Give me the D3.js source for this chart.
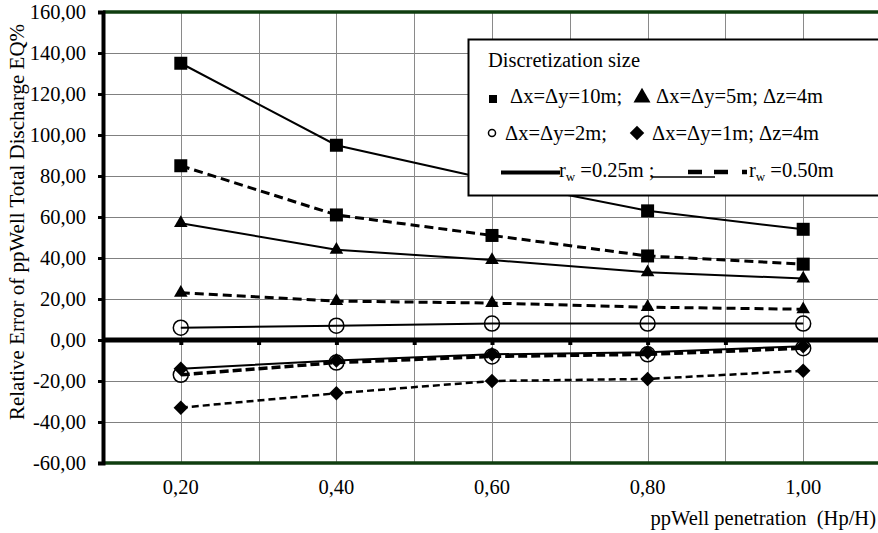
<!DOCTYPE html>
<html>
<head>
<meta charset="utf-8">
<script src="https://cdn.jsdelivr.net/npm/d3@7"></script>
<style>
  body { margin: 0; background: #fff; }
  svg { display: block; }
  svg text { font-family: "Liberation Serif", "Times New Roman", serif; fill: #000; white-space: pre; }
</style>
</head>
<body>
<div id="chart"></div>
<script>
// well penetration (Hp/H)
const penetration = [0.2, 0.4, 0.6, 0.8, 1.0]

// relative error EQ% per discretization, rw = 0.25m (solid) / 0.50m (dashed)
const sq025  = [135, 95, 78, 63, 54]
const sq050  = [85, 61, 51, 41, 37]
const tri025 = [57, 44, 39, 33, 30]
const tri050 = [23, 19, 18, 16, 15]
const cir025 = [6, 7, 8, 8, 8]
const cir050 = [-17, -11, -8, -7, -4]
const dia025 = [-14, -10, -7, -6, -3]
const dia050 = [-33, -26, -20, -19, -15]

const yTicks = [-60, -40, -20, 0, 20, 40, 60, 80, 100, 120, 140, 160]
const xLabelTicks = [0.2, 0.4, 0.6, 0.8, 1.0]
const xGridTicks = [0.2, 0.3, 0.4, 0.5, 0.6, 0.7, 0.8, 0.9, 1.0]

const yTitle = "Relative Error of ppWell Total Discharge EQ%"
const xTitle = "ppWell penetration  (Hp/H)"

const width = 878, height = 533
const FS = "20.5px"
// "160,00" style labels, plain hyphen for negatives
const fmt = d => d.toFixed(2).replace(".", ",")

const svg = d3.select("#chart").append("svg")
    .attr("width", width)
    .attr("height", height)

const x = d3.scaleLinear().domain([0.1, 1.1]).range([103, 881])
const y = d3.scaleLinear().domain([-60, 160]).range([463, 12])

// *** grid ***
const grid = svg.append("g")
grid.selectAll(".hg").data(yTicks.filter(d => d > -60 && d < 160 && d != 0))
  .enter().append("line")
    .attr("x1", x(0.1)).attr("x2", width)
    .attr("y1", d => Math.round(y(d)) + 0.5).attr("y2", d => Math.round(y(d)) + 0.5)
    .style("stroke", "#808080").style("stroke-width", 1)
grid.selectAll(".vg").data(xGridTicks)
  .enter().append("line")
    .attr("x1", d => Math.round(x(d)) + 0.5).attr("x2", d => Math.round(x(d)) + 0.5)
    .attr("y1", y(160)).attr("y2", y(-60))
    .style("stroke", "#8a8a8a").style("stroke-width", 1)

// top / bottom frame (dark green)
svg.append("g").selectAll("line").data([160, -60])
  .enter().append("line")
    .attr("x1", x(0.1)).attr("x2", width)
    .attr("y1", d => y(d)).attr("y2", d => y(d))
    .style("stroke", "#0f3d0f").style("stroke-width", 3.5)

// *** left axis ***
const yAxis = d3.axisLeft(y).tickValues(yTicks).tickFormat(fmt).tickSize(5).tickPadding(12)
const gy = svg.append("g")
    .attr("transform", `translate(${x(0.1)},0)`)
    .call(yAxis)
    .attr("font-family", null)
    .attr("font-size", null)
gy.select(".domain").style("stroke", "#000").style("stroke-width", 4)
gy.selectAll(".tick line").style("stroke", "#000").style("stroke-width", 3)
gy.selectAll(".tick text")
    .style("font-size", FS)
    .attr("dy", "0.34em")

// *** zero line with small tick marks ***
const xAxis = d3.axisBottom(x).tickValues(xGridTicks).tickFormat("").tickSize(5)
const gz = svg.append("g")
    .attr("transform", `translate(0,${y(0)})`)
    .call(xAxis)
gz.select(".domain").remove()
gz.selectAll(".tick line").style("stroke", "#000").style("stroke-width", 4)
svg.append("line")
    .attr("x1", x(0.1)).attr("x2", width)
    .attr("y1", y(0)).attr("y2", y(0))
    .style("stroke", "#000").style("stroke-width", 5)

// x tick labels
svg.append("g").selectAll("text").data(xLabelTicks)
  .enter().append("text")
    .attr("x", d => x(d)).attr("y", 494)
    .attr("text-anchor", "middle")
    .style("font-size", FS)
    .text(fmt)

// axis titles
svg.append("text")
    .attr("transform", `translate(24,222) rotate(-90)`)
    .attr("text-anchor", "middle")
    .style("font-size", "21px")
    .text(yTitle)
svg.append("text")
    .attr("x", 876).attr("y", 525)
    .attr("text-anchor", "end")
    .style("font-size", FS)
    .text(xTitle)

// *** curves ***
const series = [
  {values: sq025,  marker: "square",   dash: null,  lw: 2},
  {values: sq050,  marker: "square",   dash: "9,5", lw: 3},
  {values: tri025, marker: "triangle", dash: null,  lw: 2},
  {values: tri050, marker: "triangle", dash: "9,5", lw: 3},
  {values: cir025, marker: "circle",   dash: null,  lw: 2},
  {values: dia050, marker: "diamond",  dash: "7,4", lw: 2.5},
  {values: cir050, marker: "circle",   dash: "9,4", lw: 3.5},
  {values: dia025, marker: "diamond",  dash: null,  lw: 2}
]

const line = d3.line()
    .x((d, i) => x(penetration[i]))
    .y(d => y(d))

function drawMarker(g, type, cx, cy, scale) {
  scale = scale || 1
  if (type == "circle") {
    g.append("circle")
      .attr("cx", cx).attr("cy", cy).attr("r", 7.5 * scale)
      .style("fill", "none").style("stroke", "#000").style("stroke-width", 1.5)
  } else if (type == "square") {
    g.append("path")
      .attr("d", d3.symbol(d3.symbolSquare, 169 * scale * scale)())
      .attr("transform", `translate(${cx},${cy})`)
      .style("fill", "#000")
  } else if (type == "triangle") {
    g.append("path")
      .attr("d", d3.symbol(d3.symbolTriangle, 80 * scale * scale)())
      .attr("transform", `translate(${cx},${cy})`)
      .style("fill", "#000")
  } else if (type == "diamond") {
    g.append("path")
      .attr("d", d3.symbol(d3.symbolSquare, 105 * scale * scale)())
      .attr("transform", `translate(${cx},${cy}) rotate(45)`)
      .style("fill", "#000")
  }
}

for (let s of series) {
  const g = svg.append("g")
  g.append("path")
    .attr("d", line(s.values))
    .style("fill", "none")
    .style("stroke", "#000")
    .style("stroke-width", s.lw)
    .style("stroke-dasharray", s.dash)
  s.values.forEach((v, i) => drawMarker(g, s.marker, x(penetration[i]), y(v)))
}

// *** legend ***
const lg = svg.append("g")
lg.append("rect")
    .attr("x", 468.5).attr("y", 39.5)
    .attr("width", 440).attr("height", 156)
    .style("fill", "#fff").style("stroke", "#000").style("stroke-width", 2)

const legendText = (xx, yy, str) => lg.append("text")
    .attr("x", xx).attr("y", yy)
    .style("font-size", FS)
    .text(str)

legendText(488, 67, "Discretization size")

drawMarker(lg, "square", 493, 99, 0.62)
legendText(510, 103, "Δx=Δy=10m;")
drawMarker(lg, "triangle", 642, 97.5, 1.25)
legendText(656, 103, "Δx=Δy=5m; Δz=4m")

drawMarker(lg, "circle", 492, 133, 0.47)
legendText(505, 140, "Δx=Δy=2m;")
drawMarker(lg, "diamond", 637, 133, 1)
legendText(652, 140, "Δx=Δy=1m; Δz=4m")

// line style keys
lg.append("line").attr("x1", 501).attr("x2", 560).attr("y1", 172.5).attr("y2", 172.5)
    .style("stroke", "#000").style("stroke-width", 4)
const rw = (xx, str) => {
  const t = lg.append("text").attr("x", xx).attr("y", 177).style("font-size", FS)
  t.append("tspan").text("r")
  t.append("tspan").attr("dy", 4).style("font-size", "13px").text("w")
  t.append("tspan").attr("dy", -4).text(str)
}
rw(559, " =0.25m ;")
lg.append("line").attr("x1", 652).attr("x2", 715).attr("y1", 177).attr("y2", 177)
    .style("stroke", "#000").style("stroke-width", 1.5)
for (let seg of [[688, 702], [714, 728], [742, 747]]) {
  lg.append("line").attr("x1", seg[0]).attr("x2", seg[1]).attr("y1", 172).attr("y2", 172)
    .style("stroke", "#000").style("stroke-width", 4.5)
}
rw(749, " =0.50m")
</script>
</body>
</html>
